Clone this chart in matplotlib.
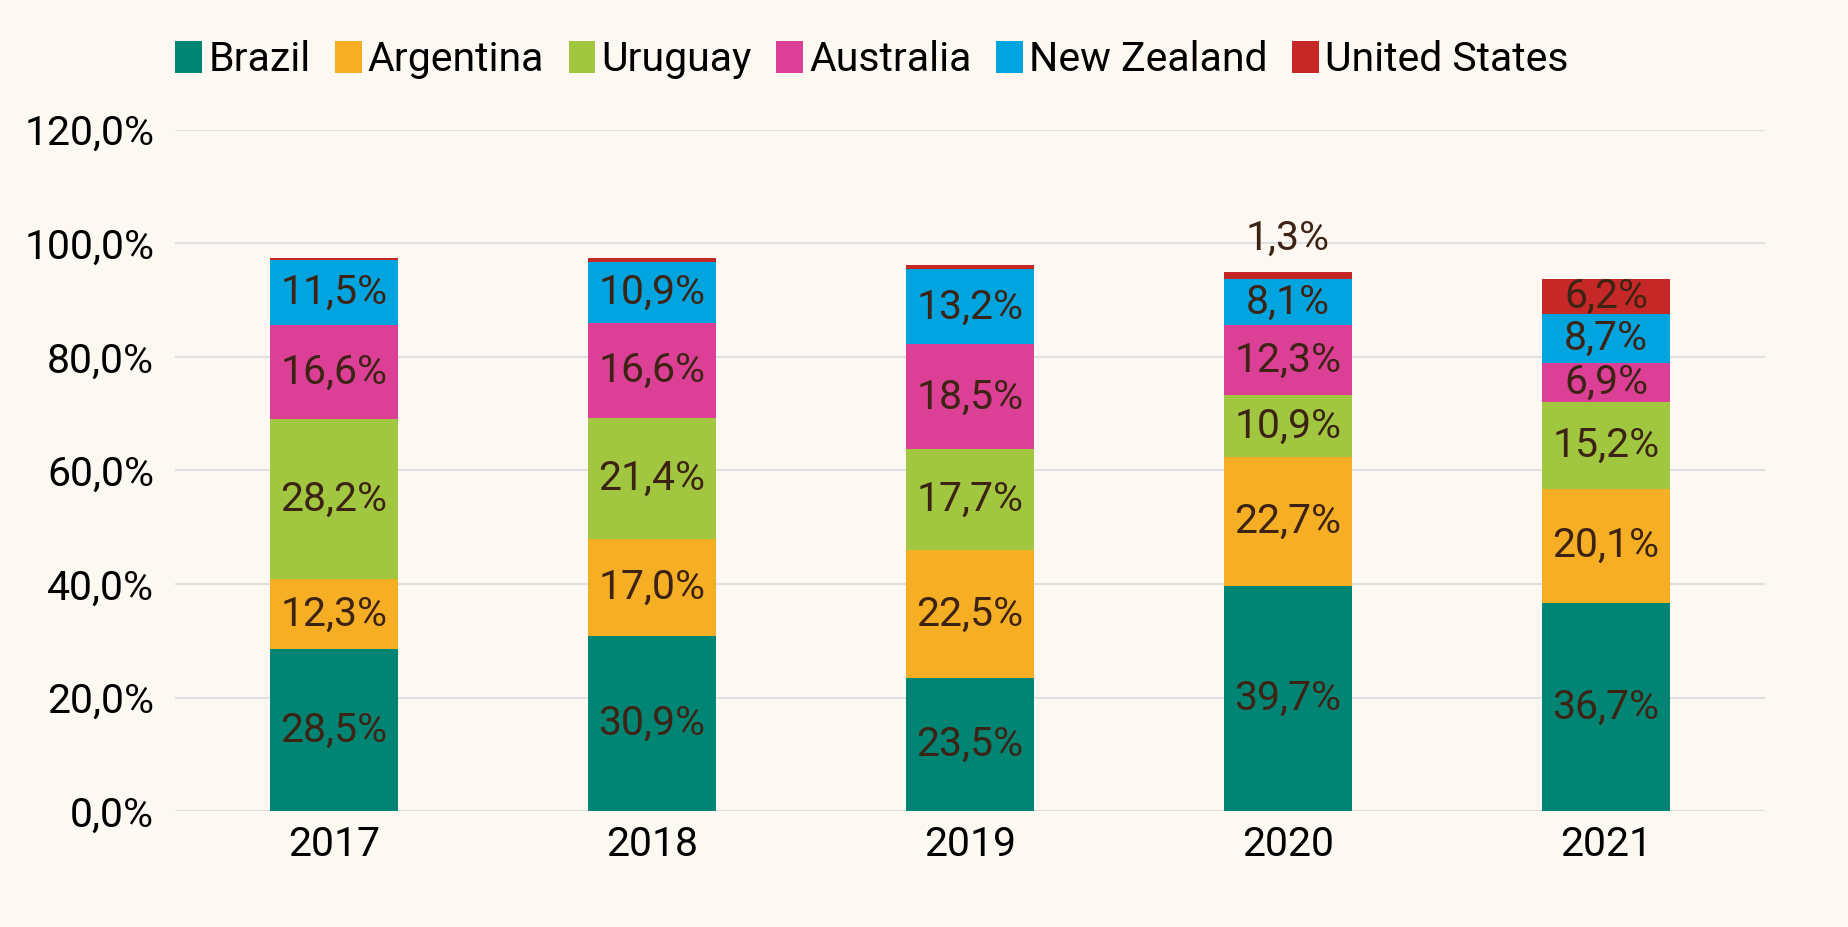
import matplotlib.pyplot as plt
import numpy as np
from matplotlib.patches import Patch

plt.rcParams["font.family"] = ["Roboto", "DejaVu Sans"]

YEARS = ["2017", "2018", "2019", "2020", "2021"]
COUNTRIES = ["Brazil", "Argentina", "Uruguay", "Australia", "New Zealand", "United States"]
COLORS = ["#008575", "#F6AE24", "#A0C73F", "#DC3F96", "#00A5E0", "#C62828"]

brazil = [28.5, 30.9, 23.5, 39.7, 36.7]
argentina = [12.3, 17.0, 22.5, 22.7, 20.1]
uruguay = [28.2, 21.4, 17.7, 10.9, 15.2]
australia = [16.6, 16.6, 18.5, 12.3, 6.9]
new_zealand = [11.5, 10.9, 13.2, 8.1, 8.7]
united_states = [0.3, 0.7, 0.7, 1.3, 6.2]

SERIES = [brazil, argentina, uruguay, australia, new_zealand, united_states]

BG = "#FDF8F2"
LABEL_COLOR = "#3D2314"
FS = 29.5


def fmt(v):
    return f"{v:.1f}%".replace(".", ",")


fig = plt.figure(figsize=(18.49, 9.27), dpi=100, facecolor=BG)
ax = fig.add_axes([0.0946, 0.125, 0.86, 0.735], facecolor=BG)

x = np.arange(len(YEARS))
bottom = np.zeros(len(YEARS))
for name, vals, color in zip(COUNTRIES, SERIES, COLORS):
    vals = np.array(vals)
    ax.bar(x, vals, width=0.4, bottom=bottom, color=color, zorder=3)
    for i, v in enumerate(vals):
        if v >= 5:
            ax.text(x[i], bottom[i] + v / 2, fmt(v), ha="center", va="center",
                    fontsize=FS, color=LABEL_COLOR, zorder=4)
        elif name == "United States" and v >= 1:
            # small segment: label sits above the bar
            ax.text(x[i], bottom[i] + v + 2.5, fmt(v), ha="center", va="bottom",
                    fontsize=FS, color=LABEL_COLOR, zorder=4)
    bottom += vals

ax.set_xlim(-0.5, len(YEARS) - 0.5)
ax.set_ylim(0, 120)
ax.set_yticks(np.arange(0, 121, 20))
ax.set_yticklabels([fmt(t) for t in np.arange(0, 121, 20)])
ax.set_xticks(x)
ax.set_xticklabels(YEARS)
ax.tick_params(axis="y", length=0, pad=15, labelsize=FS)
ax.tick_params(axis="x", length=0, pad=10, labelsize=FS)
ax.grid(axis="y", color="#E0E0E0", linewidth=1.5, zorder=0)
for s in ax.spines.values():
    s.set_visible(False)

handles = [Patch(facecolor=c, label=n) for n, c in zip(COUNTRIES, COLORS)]
ax.legend(handles=handles, loc="lower left", bbox_to_anchor=(-0.01, 1.05),
          ncol=6, frameon=False, fontsize=FS, handlelength=0.65, handleheight=0.8,
          handletextpad=0.15, columnspacing=0.6, borderaxespad=0)

fig.savefig("out.png", dpi=100, facecolor=BG)
